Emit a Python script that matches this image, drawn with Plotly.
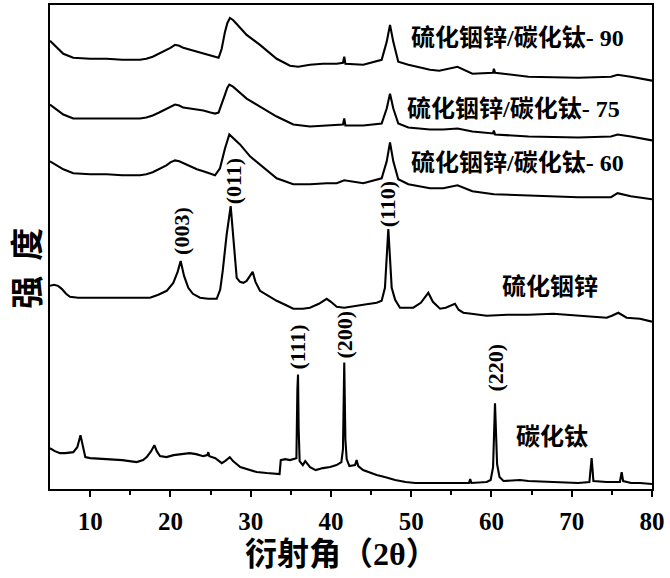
import plotly.graph_objects as go

# ---- data: 2theta (deg) and intensity (a.u.) ----
tic_x = [5.0, 5.6, 6.25, 6.9, 7.9, 8.4, 8.8, 9.1, 9.4, 10.0, 12.1, 14.0, 15.8, 16.6, 17.05, 17.6, 18.0, 18.3,
         18.7, 19.5, 20.4, 21.5, 22.4, 23.2, 24.1, 24.6, 24.72, 24.85, 25.6, 26.4, 26.8, 27.4, 27.8, 28.7,
         29.8, 30.75, 32.0, 33.24, 33.6, 33.75, 34.3, 34.9, 35.3, 35.7, 35.82, 35.9, 35.98, 36.1, 36.5, 36.8,
         37.4, 38.1, 39.0, 39.9, 40.7, 41.3, 41.5, 41.66, 41.8, 41.96, 42.3, 43.0, 43.2, 43.4, 44.0, 44.6,
         45.7, 46.7, 48.0, 49.3, 50.5, 52.1, 55.2, 57.2, 57.35, 57.5, 59.4, 59.9, 60.2, 60.44, 60.7, 61.0,
         61.5, 63.55, 64.6, 67.7, 70.8, 72.2, 72.48, 72.7, 74.35, 76.0, 76.22, 76.4, 77.4, 78.5, 80.0]
tic_y = [41, 38, 36, 36, 37, 42, 54, 44, 32, 31, 30, 29, 27, 29, 32, 38, 44, 38,
         33, 32, 34, 35, 36, 35, 33, 34, 37, 33, 31, 26, 28, 32, 28, 22,
         19, 17, 16, 15, 15, 29, 30, 29, 30, 31, 100, 115, 60, 28, 24, 28,
         22, 19, 21, 22, 24, 27, 40, 127, 50, 30, 23, 24, 29, 23, 19, 17,
         14, 12, 9, 7, 6, 6, 6, 6, 10, 6, 7, 9, 22, 86, 25, 12,
         8, 9, 8, 7, 6, 7, 31, 8, 7, 7, 17, 8, 6, 6, 5]

zis_x = [5.0, 5.5, 6.0, 6.46, 7.0, 7.49, 8.5, 10.0, 12.06, 14.0, 16.0, 17.46, 18.5, 19.54, 20.36, 20.9, 21.28,
         21.7, 22.23, 22.8, 23.69, 24.7, 25.77, 26.2, 26.52, 27.0, 27.51, 27.84, 28.26, 28.67, 29.08, 29.5,
         30.25, 30.6, 31.16, 32.0, 33.24, 34.3, 35.31, 36.5, 37.39, 38.5, 39.47, 40.0, 40.72, 41.66, 43.0,
         44.03, 45.7, 46.32, 46.73, 47.15, 47.57, 48.0, 48.6, 49.6, 50.26, 51.2, 52.13, 52.7, 53.59, 54.3,
         55.0, 55.45, 55.9, 56.49, 57.5, 59.4, 62.0, 64.6, 67.7, 70.8, 74.35, 75.0, 75.8, 76.84, 78.5, 80.0]
zis_y = [204, 205, 204, 201, 196, 193, 192, 192, 192, 192, 192, 192, 195, 199, 207, 218, 229,
         214, 202, 196, 192, 191, 191, 200, 219, 255, 284, 250, 212, 208, 207, 209,
         218, 208, 199, 195, 189, 185, 181, 181, 182, 186, 191, 188, 183, 182, 184,
         185, 187, 189, 202, 261, 202, 190, 182, 182, 182, 187, 197, 188, 181, 182,
         184, 186, 180, 177, 176, 174, 175, 175, 176, 174, 172, 174, 177, 172, 171, 168]

c90_x = [5.0, 5.8, 6.66, 7.9, 10.0, 12.06, 14.0, 16.21, 17.0, 17.8, 18.6, 19.5, 20.0, 20.57, 21.1, 21.6, 22.44,
         23.3, 24.1, 25.0, 25.56, 26.0, 26.18, 26.39, 26.8, 27.1, 27.42, 27.8, 28.26, 29.5, 31.16, 33.24, 34.9,
         35.93, 37.39, 39.0, 40.72, 41.5, 41.66, 41.8, 44.03, 46.32, 46.95, 47.36, 47.77, 48.39, 49.64,
         52.34, 53.5, 55.77, 57.62, 60.2, 60.3, 60.45, 64.61, 70.78, 74.89, 75.71, 77.36, 80.0]
c90_y = [450, 444, 437, 433, 432, 432, 431, 431, 432, 434, 437, 441, 443, 446, 445, 443, 441,
         439, 437, 435, 434, 433, 437, 442, 459, 468, 473, 471, 467, 456, 446, 432, 425,
         424, 426, 427, 427, 428, 434, 427, 426, 431, 449, 466, 449, 429, 426,
         421, 420, 424, 417, 418, 422, 418, 414, 413, 414, 416, 414, 410]

c75_x = [5.0, 5.8, 6.66, 7.9, 10.0, 12.06, 14.0, 16.21, 17.0, 17.8, 18.6, 19.5, 20.0, 20.57, 21.1, 21.6, 22.44,
         23.3, 24.1, 25.0, 25.56, 26.0, 26.39, 26.8, 27.1, 27.34, 27.8, 28.26, 29.5, 31.16, 33.24, 35.31,
         37.39, 39.47, 40.72, 41.5, 41.66, 41.8, 44.03, 46.32, 46.95, 47.36, 47.77, 48.39, 49.64, 52.34,
         54.0, 55.77, 57.62, 60.2, 60.3, 60.45, 64.61, 70.78, 74.89, 75.71, 77.36, 80.0]
c75_y = [386, 381, 376, 372, 372, 372, 372, 372, 373, 375, 378, 382, 384, 386, 385, 383, 382,
         381, 380, 378, 377, 378, 386, 396, 403, 406, 404, 401, 392, 384, 374, 366,
         364, 365, 366, 366, 372, 365, 365, 367, 382, 397, 382, 367, 363, 361,
         361, 362, 359, 357, 360, 356, 354, 353, 354, 356, 354, 350]

c60_x = [5.0, 5.8, 6.66, 7.9, 10.0, 12.06, 14.0, 16.21, 17.0, 17.8, 18.6, 19.5, 20.0, 20.57, 21.1, 21.6, 22.44,
         23.3, 24.1, 25.0, 25.56, 26.18, 26.8, 27.34, 28.0, 28.67, 29.92, 31.16, 33.24, 35.31, 37.39, 39.47,
         40.72, 41.66, 44.03, 46.32, 46.95, 47.36, 47.77, 48.39, 49.64, 52.34, 54.0, 55.77, 57.62, 60.3,
         64.61, 67.7, 70.78, 74.89, 75.71, 77.36, 80.0]
c60_y = [329, 325, 321, 317, 316, 316, 315, 315, 316, 318, 321, 325, 328, 330, 329, 327, 324,
         321, 319, 317, 315, 322, 342, 356, 351, 346, 334, 326, 312, 306, 306, 307,
         307, 310, 307, 312, 329, 348, 329, 311, 306, 302, 302, 305, 299, 296,
         295, 294, 293, 293, 297, 294, 291]

series = [(tic_x, tic_y), (zis_x, zis_y), (c60_x, c60_y), (c75_x, c75_y), (c90_x, c90_y)]

# sample labels: text, 2theta, intensity
sample_text = ["硫化铟锌/碳化钛- 90", "硫化铟锌/碳化钛- 75", "硫化铟锌/碳化钛- 60", "硫化铟锌", "碳化钛"]
sample_x = [63.2, 62.8, 63.2, 67.3, 67.5]
sample_y = [453, 382, 327, 203, 52]

# peak (hkl) labels
peak_text = ["(003)", "(011)", "(110)", "(111)", "(200)", "(220)"]
peak_x = [21.3, 27.8, 47.0, 35.9, 41.75, 60.45]
peak_y = [259, 309, 286, 142, 155, 122]

x_ticks = [10, 20, 30, 40, 50, 60, 70, 80]

fig = go.Figure()
for xs, ys in series:
    fig.add_trace(go.Scatter(x=xs, y=ys, mode="lines",
                             line=dict(color="black", width=2.1), showlegend=False,
                             hoverinfo="skip"))

for t, x, y in zip(sample_text, sample_x, sample_y):
    fig.add_annotation(x=x, y=y, text=t, showarrow=False, xanchor="center", yanchor="middle",
                       font=dict(family="Liberation Serif, Noto Sans CJK SC", size=24,
                                 color="black", weight="bold"))

for t, x, y in zip(peak_text, peak_x, peak_y):
    fig.add_annotation(x=x, y=y, text=t, showarrow=False, textangle=-90,
                       xanchor="center", yanchor="middle",
                       font=dict(family="Liberation Serif", size=22, color="black", weight="bold"))

# axis titles
fig.add_annotation(xref="paper", yref="paper", x=0.485, y=0, yshift=-65, text="衍射角（2θ）",
                   showarrow=False, xanchor="center", yanchor="middle",
                   font=dict(family="Liberation Serif, Noto Sans CJK SC", size=32,
                             color="black", weight="bold"))
fig.add_annotation(xref="paper", yref="paper", x=0, xshift=-25, y=0.455, text="强  度",
                   textangle=-90, showarrow=False, xanchor="center", yanchor="middle",
                   font=dict(family="Noto Sans CJK SC", size=33, color="black", weight="bold"))

fig.update_layout(
    width=670, height=578,
    margin=dict(l=50, r=18, t=3, b=89, pad=0),
    plot_bgcolor="white", paper_bgcolor="white",
    xaxis=dict(range=[5, 80], tickvals=x_ticks, ticktext=[str(v) for v in x_ticks],
               ticks="outside", ticklen=6, tickwidth=2, tickcolor="black",
               minor=dict(tickvals=[15, 25, 35, 45, 55, 65, 75], ticks="outside", ticklen=4,
                          tickwidth=2, tickcolor="black"),
               showline=True, linewidth=2, linecolor="black", mirror=True,
               showgrid=False, zeroline=False, ticklabelstandoff=3,
               tickfont=dict(family="Liberation Serif", size=25, color="black", weight="bold")),
    yaxis=dict(range=[0, 486], showticklabels=False, ticks="", showline=True, linewidth=2,
               linecolor="black", mirror=True, showgrid=False, zeroline=False),
)

fig.write_html("out.html", config={"displayModeBar": False},
               post_script="document.body.style.margin='0';document.body.style.overflow='hidden';")
